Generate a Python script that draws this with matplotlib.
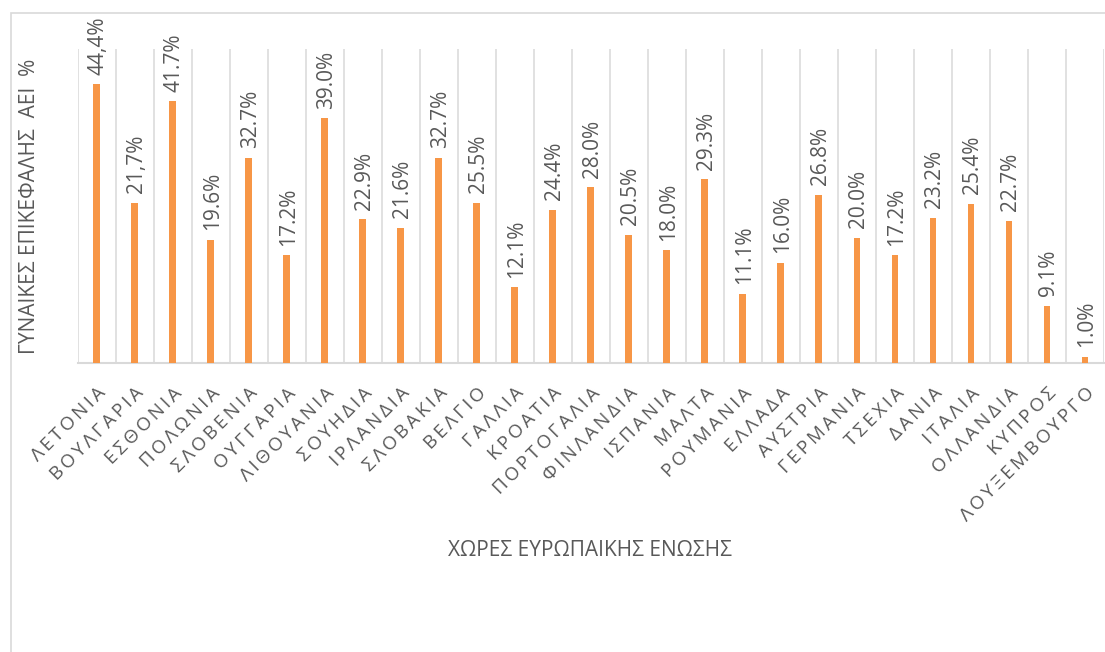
import numpy as np
import matplotlib
matplotlib.use("Agg")
import matplotlib.pyplot as plt
from matplotlib.patches import Rectangle

# ──────────────────────────────────────────────────────────────────────────────
# Δεδομένα (ύψη ράβδων όπως φαίνονται + ετικέτες όπως είναι γραμμένες)
# ──────────────────────────────────────────────────────────────────────────────
countries = ["ΛΕΤΟΝΙΑ", "ΒΟΥΛΓΑΡΙΑ", "ΕΣΘΟΝΙΑ", "ΠΟΛΩΝΙΑ", "ΣΛΟΒΕΝΙΑ", "ΟΥΓΓΑΡΙΑ",
             "ΛΙΘΟΥΑΝΙΑ", "ΣΟΥΗΔΙΑ", "ΙΡΛΑΝΔΙΑ", "ΣΛΟΒΑΚΙΑ", "ΒΕΛΓΙΟ", "ΓΑΛΛΙΑ",
             "ΚΡΟΑΤΙΑ", "ΠΟΡΤΟΓΑΛΙΑ", "ΦΙΝΛΑΝΔΙΑ", "ΙΣΠΑΝΙΑ", "ΜΑΛΤΑ", "ΡΟΥΜΑΝΙΑ",
             "ΕΛΛΑΔΑ", "ΑΥΣΤΡΙΑ", "ΓΕΡΜΑΝΙΑ", "ΤΣΕΧΙΑ", "ΔΑΝΙΑ", "ΙΤΑΛΙΑ",
             "ΟΛΛΑΝΔΙΑ", "ΚΥΠΡΟΣ", "ΛΟΥΞΕΜΒΟΥΡΓΟ"]
values = [44.4, 25.5, 41.7, 19.6, 32.7, 17.2, 39.0, 22.9, 21.6, 32.7, 25.5, 12.1,
          24.4, 28.0, 20.5, 18.0, 29.3, 11.1, 16.0, 26.8, 20.0, 17.2, 23.2, 25.4,
          22.7, 9.1, 1.0]
value_labels = ["44,4%", "21,7%", "41.7%", "19.6%", "32.7%", "17.2%", "39.0%", "22.9%",
                "21.6%", "32.7%", "25.5%", "12.1%", "24.4%", "28.0%", "20.5%", "18.0%",
                "29.3%", "11.1%", "16.0%", "26.8%", "20.0%", "17.2%", "23.2%", "25.4%",
                "22.7%", "9.1%", "1.0%"]

TEXT = "#595959"
GRID = "#d9d9d9"
BAR = "#F79646"
plt.rcParams["font.family"] = ["Open Sans", "DejaVu Sans"]

W, H = 1105, 652
fig = plt.figure(figsize=(W / 100, H / 100), dpi=100)

# πλαίσιο γραφήματος (κομμένο δεξιά και κάτω)
fig.patches.append(Rectangle((11 / W, -0.2), 1.2, 1.2 - 13 / H, transform=fig.transFigure,
                             fill=False, edgecolor=GRID, lw=1.2))

ax = fig.add_axes([77.7 / W, (H - 363.3) / H, (1104 - 77.7) / W, (363.3 - 49.3) / H])
x = np.arange(len(countries))
ax.bar(x, values, width=0.18, color=BAR, zorder=3)

for xi, v, lbl in zip(x, values, value_labels):
    ax.annotate(lbl, (xi, v), xytext=(1, 7), textcoords="offset points",
                rotation=90, ha="center", va="bottom", color=TEXT, fontsize=15)

ax.set_xlim(-0.5, len(countries) - 0.5)
ax.set_ylim(0, 50)
ax.set_yticks([])
ax.set_xticks(np.arange(-0.5, len(countries)), minor=True)
ax.grid(which="minor", axis="x", color=GRID, lw=1.1, zorder=0)
ax.tick_params(axis="x", which="both", length=0)

spaced = ["\u2009".join(c) for c in countries]
ax.set_xticks(x, spaced)
ax.tick_params(axis="x", which="major", pad=15, labelsize=13.5, labelcolor=TEXT)
for t in ax.get_xticklabels():
    t.set_rotation(45)
    t.set_ha("right")
    t.set_rotation_mode("anchor")

for s in ["top", "left", "right"]:
    ax.spines[s].set_visible(False)
ax.spines["bottom"].set_color(GRID)
ax.spines["bottom"].set_linewidth(1.5)

fig.text(30 / W, 1 - 206 / H, "ΓΥΝΑΙΚΕΣ ΕΠΙΚΕΦΑΛΗΣ  ΑΕΙ  %", rotation=90,
         ha="center", va="center", color=TEXT, fontsize=15)
fig.text(590 / W, 1 - 550 / H, "ΧΩΡΕΣ ΕΥΡΩΠΑΙΚΗΣ ΕΝΩΣΗΣ",
         ha="center", va="center", color=TEXT, fontsize=15)

fig.savefig("out.png", dpi=100)
